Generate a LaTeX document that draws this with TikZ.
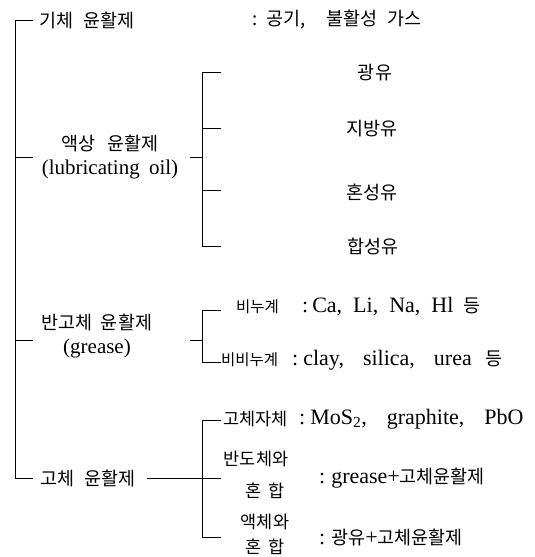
\documentclass[tikz,border=0pt]{standalone}
\usepackage{fontspec}
\setmainfont{Liberation Serif}
\newfontfamily\kr{Noto Sans CJK KR}
\newcommand\KO[1]{{\kr\fontsize{18.5}{20}\selectfont #1}}
\newcommand\wsp{\hspace{10pt}}
\begin{document}
\begin{tikzpicture}[x=1pt,y=-1pt,
  kor/.style={inner sep=0pt, font=\kr\fontsize{18.5}{20}\selectfont},
  korm/.style={inner sep=0pt, font=\kr\fontsize{17.5}{19}\selectfont},
  kors/.style={inner sep=0pt, font=\kr\fontsize{15.5}{18}\selectfont},
  lat/.style={inner sep=0pt, font=\fontsize{21}{23}\selectfont},
  latd/.style={inner sep=0pt, font=\fontsize{22}{24}\selectfont},
  ln/.style={line width=0.8pt}]
\useasboundingbox (0,0) rectangle (535,557);

% ---------- main bracket ----------
\coordinate (mTop) at (15,20);
\coordinate (mTopE) at (33,20);
\coordinate (mLiq) at (15,157);
\coordinate (mLiqE) at (33,157);
\coordinate (mGr) at (15,340);
\coordinate (mGrE) at (33,340);
\coordinate (mBot) at (15,478);
\coordinate (mBotE) at (33,478);
\draw[ln] (mTopE) -- (mTop) -- (mBot) -- (mBotE);
\draw[ln] (mLiq) -- (mLiqE);
\draw[ln] (mGr) -- (mGrE);

% ---------- gas ----------
\node[kor,anchor=west] (gas) at (39,20) {기체\wsp 윤활제};
\node[kor,anchor=west] (gasd) at (252,20) {:\hspace{9pt}공기,\hspace{21pt}불활성\hspace{10pt}가스};

% ---------- liquid ----------
\node[kor] (liq1) at (110,143) {액상\hspace{12pt}윤활제};
\node[lat] (liq2) at (110,169) {(lubricating\hspace{4pt} oil)};
\coordinate (lT) at (190,157);
\coordinate (lV) at (202,157);
\coordinate (l1) at (202,72);  \coordinate (l1e) at (221,72);
\coordinate (l2) at (202,128); \coordinate (l2e) at (221,128);
\coordinate (l3) at (202,190); \coordinate (l3e) at (221,190);
\coordinate (l4) at (202,246); \coordinate (l4e) at (221,246);
\draw[ln] (lT) -- (lV);
\draw[ln] (l1e) -- (l1) -- (l4) -- (l4e);
\draw[ln] (l2) -- (l2e);
\draw[ln] (l3) -- (l3e);
\node[kor] (o1) at (375,73) {광유};
\node[kor] (o2) at (372,129) {지방유};
\node[kor] (o3) at (372,192) {혼성유};
\node[kor] (o4) at (373,246) {합성유};

% ---------- grease ----------
\node[kor] (gr1) at (97,322) {반고체\hspace{8pt}윤활제};
\node[lat] (gr2) at (97,348) {(grease)};
\coordinate (gT) at (190,340);
\coordinate (gV) at (202,340);
\coordinate (g1) at (202,310); \coordinate (g1e) at (221,310);
\coordinate (g2) at (202,362); \coordinate (g2e) at (221,362);
\draw[ln] (gT) -- (gV);
\draw[ln] (g1e) -- (g1) -- (g2) -- (g2e);
\node[kors,anchor=west] (s1) at (236,307) {비누계};
\node[latd,anchor=west] (s1d) at (302,307) {:\hspace{4pt}Ca,\hspace{11pt}Li,\hspace{11pt}Na,\hspace{11pt}Hl\hspace{10pt}\KO{등}};
\node[kors,anchor=west] (s2) at (221,360) {비비누계};
\node[latd,anchor=west] (s2d) at (292,360) {:\hspace{5pt}clay,\hspace{19pt}silica,\hspace{19pt}urea\hspace{14pt}\KO{등}};

% ---------- solid ----------
\node[kor,anchor=west] (so) at (40,478) {고체\wsp 윤활제};
\coordinate (sL) at (147,478);
\coordinate (sV) at (202,478);
\coordinate (sM) at (221,478);
\coordinate (t1) at (202,420); \coordinate (t1e) at (221,420);
\coordinate (t3) at (202,537); \coordinate (t3e) at (221,537);
\draw[ln] (sL) -- (sM);
\draw[ln] (t1e) -- (t1) -- (t3) -- (t3e);
\node[korm,anchor=west] (a1) at (223,419) {고체자체};
\node[latd,anchor=west] (a1d) at (299,419) {:\hspace{5pt}MoS\textsubscript{2},\hspace{20pt}graphite,\hspace{20pt}PbO};
\node[korm] (a2a) at (256,459) {반도체와};
\node[korm] (a2b) at (265,491) {혼\hspace{7pt}합};
\node[latd,anchor=west] (a2d) at (319,478) {:\hspace{6pt}grease+\KO{고체윤활제}};
\node[korm] (a3a) at (265,522) {액체와};
\node[korm] (a3b) at (265,547) {혼\hspace{7pt}합};
\node[latd,anchor=west] (a3d) at (319,537) {:\hspace{6pt}\KO{광유}+\KO{고체윤활제}};
\end{tikzpicture}
\end{document}
